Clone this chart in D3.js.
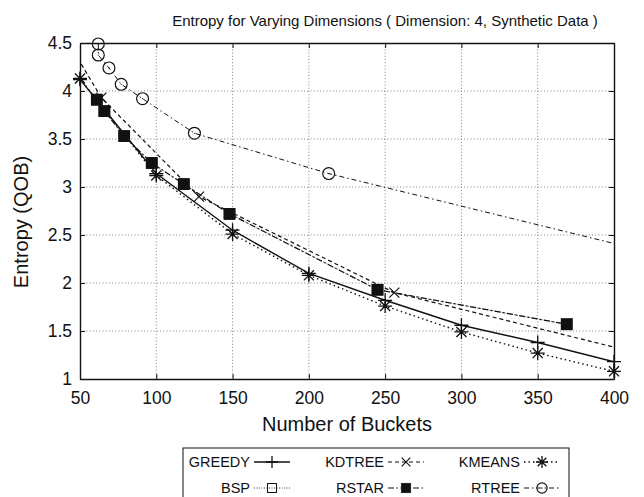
<!DOCTYPE html>
<html>
<head>
<meta charset="utf-8">
<script src="https://cdn.jsdelivr.net/npm/d3@7"></script>
<style>
  html, body { margin: 0; padding: 0; background: #fff; }
  svg { display: block; font-family: "Liberation Sans", Arial, Helvetica, sans-serif; }
</style>
</head>
<body>
<svg id="chart" width="644" height="497"></svg>
<script>
// Entropy (QOB) versus number of buckets, one series per partitioning method
const greedyX = [50, 100, 150, 200, 250, 300, 350, 400];
const greedyY = [4.12, 3.14, 2.55, 2.10, 1.82, 1.56, 1.38, 1.18];

const kmeansX = [50, 100, 150, 200, 250, 300, 350, 400];
const kmeansY = [4.13, 3.12, 2.51, 2.08, 1.76, 1.49, 1.27, 1.08];

const kdtreeX = [32, 64, 128, 256, 512];
const kdtreeY = [4.78, 3.93, 2.90, 1.90, 0.89];

const bspX = [61, 66, 79, 97, 118, 148, 245, 369];
const bspY = [3.91, 3.79, 3.53, 3.25, 3.03, 2.72, 1.93, 1.57];

const rstarX = [61, 66, 79, 97, 118, 148, 245, 369];
const rstarY = [3.91, 3.79, 3.53, 3.25, 3.03, 2.72, 1.93, 1.57];

const rtreeX = [62, 62, 69, 77, 91, 125, 213, 480];
const rtreeY = [4.49, 4.375, 4.24, 4.07, 3.92, 3.56, 3.14, 2.10];

const xTicks = [50, 100, 150, 200, 250, 300, 350, 400];
const yTicks = [1, 1.5, 2, 2.5, 3, 3.5, 4, 4.5];
const yTickLabels = ["1", "1.5", "2", "2.5", "3", "3.5", "4", "4.5"];

const titleText = "Entropy for Varying Dimensions ( Dimension: 4, Synthetic Data )";
const xLabel = "Number of Buckets";
const yLabel = "Entropy (QOB)";

const zip = (xs, ys) => xs.map((x, i) => ({ x, y: ys[i] }));

const series = [
  { name: "GREEDY", data: zip(greedyX, greedyY), dash: null, width: 1.4, marker: "plus" },
  { name: "KDTREE", data: zip(kdtreeX, kdtreeY), dash: "4,3", width: 1.2, marker: "cross" },
  { name: "KMEANS", data: zip(kmeansX, kmeansY), dash: "1.5,3", width: 1.4, marker: "star" },
  { name: "BSP", data: zip(bspX, bspY), dash: "1,1.5", width: 0.8, marker: "square" },
  { name: "RSTAR", data: zip(rstarX, rstarY), dash: "6,2.5,1.5,2.5", width: 1.2, marker: "filledSquare" },
  { name: "RTREE", data: zip(rtreeX, rtreeY), dash: "5,3,1.5,3", width: 1.0, marker: "circle" }
];

const svg = d3.select("#chart");
const pLeft = 80, pRight = 614, pTop = 43, pBottom = 379;

const x = d3.scaleLinear().domain([50, 400]).range([pLeft, pRight]);
const y = d3.scaleLinear().domain([1, 4.5]).range([pBottom, pTop]);

const ink = "#111";

// grid
const grid = svg.append("g").attr("stroke", "#777").attr("stroke-width", 0.9)
  .attr("stroke-dasharray", "1,2.2");
grid.selectAll("line.v").data(xTicks.slice(1, -1)).join("line")
  .attr("x1", d => x(d)).attr("x2", d => x(d)).attr("y1", pTop).attr("y2", pBottom);
grid.selectAll("line.h").data(yTicks.slice(1, -1)).join("line")
  .attr("x1", pLeft).attr("x2", pRight).attr("y1", d => y(d)).attr("y2", d => y(d));

// axes with inward ticks
const axisFont = "17.5px";
const xAxis = svg.append("g").attr("transform", `translate(0,${pBottom})`)
  .call(d3.axisBottom(x).tickValues(xTicks).tickSizeInner(-5).tickSizeOuter(0).tickPadding(13));
const xAxisTop = svg.append("g").attr("transform", `translate(0,${pTop})`)
  .call(d3.axisTop(x).tickValues(xTicks).tickSizeInner(-5).tickSizeOuter(0).tickFormat(""));
const yAxis = svg.append("g").attr("transform", `translate(${pLeft},0)`)
  .call(d3.axisLeft(y).tickValues(yTicks).tickFormat((d, i) => yTickLabels[i])
    .tickSizeInner(-5).tickSizeOuter(0).tickPadding(8));
const yAxisRight = svg.append("g").attr("transform", `translate(${pRight},0)`)
  .call(d3.axisRight(y).tickValues(yTicks).tickSizeInner(-5).tickSizeOuter(0).tickFormat(""));

[xAxis, xAxisTop, yAxis, yAxisRight].forEach(g => {
  g.select(".domain").attr("stroke", ink).attr("stroke-width", 1.4);
  g.selectAll(".tick line").attr("stroke", ink).attr("stroke-width", 1);
  g.selectAll(".tick text").attr("fill", ink).style("font-size", axisFont)
    .style("font-family", "'Liberation Sans', Arial, sans-serif");
});

// clip for lines
svg.append("clipPath").attr("id", "plotClip").append("rect")
  .attr("x", pLeft).attr("y", pTop).attr("width", pRight - pLeft).attr("height", pBottom - pTop);

const line = d3.line().x(d => x(d.x)).y(d => y(d.y));

function drawMarker(g, kind, cx, cy, size) {
  const s = size;
  if (kind === "plus") {
    g.append("path").attr("d", `M${cx - s},${cy}H${cx + s}M${cx},${cy - s}V${cy + s}`)
      .attr("stroke", ink).attr("stroke-width", 1.3).attr("fill", "none");
  } else if (kind === "cross") {
    const r = s * 0.72;
    g.append("path").attr("d", `M${cx - r},${cy - r}L${cx + r},${cy + r}M${cx - r},${cy + r}L${cx + r},${cy - r}`)
      .attr("stroke", ink).attr("stroke-width", 1.2).attr("fill", "none");
  } else if (kind === "star") {
    const r = s * 0.72;
    g.append("path").attr("d",
      `M${cx - s},${cy}H${cx + s}M${cx},${cy - s}V${cy + s}` +
      `M${cx - r},${cy - r}L${cx + r},${cy + r}M${cx - r},${cy + r}L${cx + r},${cy - r}`)
      .attr("stroke", ink).attr("stroke-width", 1.3).attr("fill", "none");
  } else if (kind === "square") {
    g.append("rect").attr("x", cx - s * 0.75).attr("y", cy - s * 0.75)
      .attr("width", s * 1.5).attr("height", s * 1.5)
      .attr("fill", "none").attr("stroke", ink).attr("stroke-width", 1);
  } else if (kind === "filledSquare") {
    g.append("rect").attr("x", cx - s * 0.8).attr("y", cy - s * 0.8)
      .attr("width", s * 1.6).attr("height", s * 1.6)
      .attr("fill", ink).attr("stroke", ink).attr("stroke-width", 0.5);
  } else if (kind === "circle") {
    g.append("circle").attr("cx", cx).attr("cy", cy).attr("r", s * 0.85)
      .attr("fill", "none").attr("stroke", ink).attr("stroke-width", 1.2);
    g.append("circle").attr("cx", cx).attr("cy", cy).attr("r", 0.6).attr("fill", ink);
  }
}

const plot = svg.append("g");
const drawOrder = ["BSP", "RTREE", "KMEANS", "GREEDY", "KDTREE", "RSTAR"];
drawOrder.forEach(name => {
  const s = series.find(d => d.name === name);
  const g = plot.append("g");
  g.append("path").datum(s.data).attr("clip-path", "url(#plotClip)")
    .attr("d", line).attr("fill", "none").attr("stroke", ink)
    .attr("stroke-width", s.width).attr("stroke-dasharray", s.dash);
  s.data.filter(d => d.x >= 50 && d.x <= 400).forEach(d => {
    drawMarker(g, s.marker, x(d.x), y(d.y), 7);
  });
});

// title and axis labels
svg.append("text").attr("x", 385).attr("y", 26).attr("text-anchor", "middle")
  .style("font-size", "15px").attr("fill", ink).text(titleText);
svg.append("text").attr("x", (pLeft + pRight) / 2).attr("y", 431).attr("text-anchor", "middle")
  .style("font-size", "20px").attr("fill", ink).text(xLabel);
svg.append("text").attr("transform", `translate(28,222) rotate(-90)`)
  .attr("text-anchor", "middle").style("font-size", "20px").attr("fill", ink).text(yLabel);

// legend
const legend = svg.append("g");
legend.append("rect").attr("x", 183).attr("y", 448).attr("width", 386).attr("height", 60)
  .attr("fill", "#fff").attr("stroke", ink).attr("stroke-width", 1);
const legendCols = [250, 384, 520];
const legendRows = [462, 488];
const legendSample = 36;
series.forEach((s, i) => {
  const cx = legendCols[i % 3], cy = legendRows[Math.floor(i / 3)];
  legend.append("text").attr("x", cx).attr("y", cy).attr("dy", "0.35em")
    .attr("text-anchor", "end").style("font-size", "14.5px").attr("fill", ink).text(s.name);
  const x0 = cx + 4, x1 = cx + 4 + legendSample;
  legend.append("line").attr("x1", x0).attr("x2", x1).attr("y1", cy).attr("y2", cy)
    .attr("stroke", ink).attr("stroke-width", s.width).attr("stroke-dasharray", s.dash);
  drawMarker(legend, s.marker, (x0 + x1) / 2, cy, 6);
});
</script>
</body>
</html>
